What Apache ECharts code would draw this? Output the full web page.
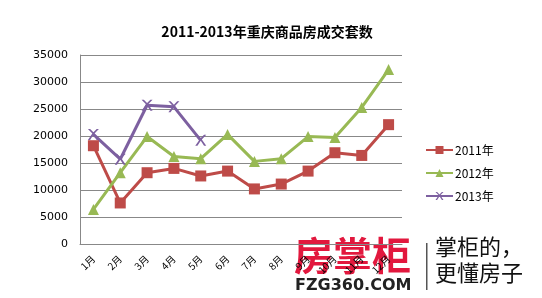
<!DOCTYPE html>
<html><head><meta charset="utf-8">
<script src="https://cdn.jsdelivr.net/npm/echarts@6/dist/echarts.min.js"></script>
<style>html,body{margin:0;padding:0;background:#fff}#c{width:542px;height:298px}</style>
</head><body><div id="c"></div>
<script>
var categories = ['1月','2月','3月','4月','5月','6月','7月','8月','9月','10月','11月','12月'];
var s2011 = [18200, 7600, 13200, 14000, 12600, 13500, 10200, 11100, 13500, 16900, 16400, 22100];
var s2012 = [6400, 13200, 19900, 16200, 15800, 20300, 15300, 15800, 19900, 19700, 25300, 32300];
var s2013 = [20300, 15700, 25700, 25400, 19200];
var yTicks = [0, 5000, 10000, 15000, 20000, 25000, 30000, 35000];
var seriesNames = ['2011年','2012年','2013年'];

var chart = echarts.init(document.getElementById('c'), null, {renderer:'canvas'});
var font = '"Noto Sans CJK SC", "DejaVu Sans", sans-serif';
var xPath = 'path://M0,0L2,0L5,3L8,0L10,0L6,4.2L10,10L8,10L5,5.4L2,10L0,10L4,4.2Z';
chart.setOption({
  animation:false,
  title:{text:'2011-2013年重庆商品房成交套数', left:262, textAlign:'center', top:20,
    textStyle:{fontSize:14, fontWeight:'bold', color:'#000', fontFamily:font}},
  legend:{orient:'vertical', left:420, top:139, itemGap:11, itemWidth:27, itemHeight:10,
    data:seriesNames, textStyle:{fontSize:12, color:'#000', fontFamily:font, padding:[0,0,0,-3]}},
  grid:{left:80, right:140, top:55, bottom:54},
  xAxis:{type:'category', data:categories, boundaryGap:true,
    axisLine:{lineStyle:{color:'#888'}}, axisTick:{show:false},
    axisLabel:{rotate:45, fontSize:10, color:'#000', margin:13, interval:0, fontFamily:font}},
  yAxis:{type:'value', min:yTicks[0], max:yTicks[yTicks.length-1], interval:5000,
    axisLine:{show:true, lineStyle:{color:'#888'}}, axisTick:{show:false},
    splitLine:{lineStyle:{color:'#888', width:1}},
    axisLabel:{fontSize:11, color:'#000', margin:12, fontFamily:'"DejaVu Sans", sans-serif',
      formatter:function(v){return String(v);}}},
  series:[
    {name:seriesNames[0], type:'line', data:s2011, symbol:'rect', symbolSize:11,
      lineStyle:{color:'#BE4B48', width:3}, itemStyle:{color:'#BE4B48'}},
    {name:seriesNames[1], type:'line', data:s2012, symbol:'triangle', symbolSize:11,
      lineStyle:{color:'#98B954', width:3}, itemStyle:{color:'#98B954'}},
    {name:seriesNames[2], type:'line', data:s2013, symbol:xPath, symbolSize:11,
      lineStyle:{color:'#7D60A0', width:3}, itemStyle:{color:'#7D60A0'}}
  ],
  graphic:[
    {type:'text', left:294, top:236, style:{text:'房掌柜', fontSize:39, fontWeight:'bold', fill:'#E2183E', fontFamily:font}},
    {type:'text', left:295, top:278, style:{text:'FZG360.COM', fontSize:16, fontWeight:'bold', fill:'#222', fontFamily:'"DejaVu Sans", sans-serif'}},
    {type:'rect', shape:{x:426, y:243, width:1.5, height:47}, style:{fill:'#555'}},
    {type:'text', left:435, top:236, style:{text:'掌柜的，', fontSize:22, fill:'#111', fontFamily:font}},
    {type:'text', left:435, top:262, style:{text:'更懂房子', fontSize:22, fill:'#111', fontFamily:font}}
  ]
});
</script></body></html>
